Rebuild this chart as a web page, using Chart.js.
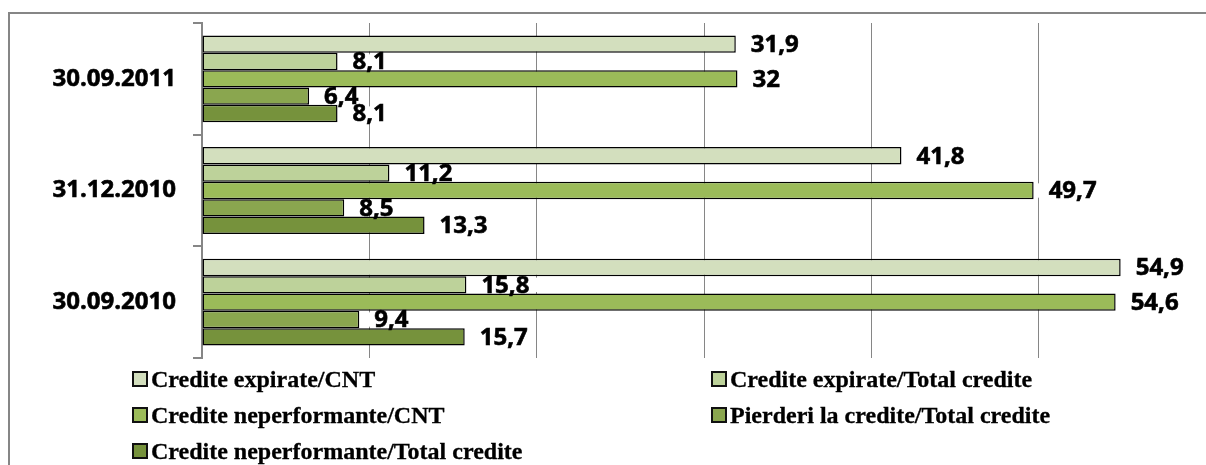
<!DOCTYPE html>
<html>
<head>
<meta charset="utf-8">
<script src="https://cdn.jsdelivr.net/npm/chart.js@4"></script>
<style>
    html, body { margin: 0; padding: 0; background: #fff; overflow: hidden; }
    #wrap { position: relative; width: 1206px; height: 465px; overflow: hidden; }
    #frame {
        position: absolute; left: 8px; top: 12px; width: 1400px; height: 600px;
        border-left: 2px solid #868686; border-top: 2px solid #868686;
    }
    #chart { position: absolute; left: 0; top: 0; }
    #legend {
        position: absolute; left: 132px; top: 361px;
        display: grid; grid-template-columns: 579px auto; grid-auto-rows: 36px;
        font: bold 24px "Liberation Serif", "Times New Roman", serif; color: #000;
        -webkit-text-stroke: 0.3px #000;
    }
    .item { display: flex; align-items: center; white-space: nowrap; }
    .box { width: 12px; height: 12px; border: 2px solid #111; margin-right: 3px; }
</style>
</head>
<body>
<div id="wrap">
    <div id="frame"></div>
    <canvas id="chart" width="1206" height="465"></canvas>
    <div id="legend"></div>
</div>
<script>
// Credite expirate / neperformante - bar chart

const categories = ['30.09.2011', '31.12.2010', '30.09.2010'];

const seriesNames = [
    'Credite expirate/CNT',
    'Credite expirate/Total credite',
    'Credite neperformante/CNT',
    'Pierderi la credite/Total credite',
    'Credite neperformante/Total credite'
];

const expirateCNT = [31.9, 41.8, 54.9];
const expirateTotal = [8.1, 11.2, 15.8];
const neperformanteCNT = [32, 49.7, 54.6];
const pierderiTotal = [6.4, 8.5, 9.4];
const neperformanteTotal = [8.1, 13.3, 15.7];

const seriesColors = ['#D3DFBE', '#BDD29A', '#9BBB59', '#8AA64F', '#76923C'];

const seriesValues = [expirateCNT, expirateTotal, neperformanteCNT, pierderiTotal, neperformanteTotal];

const labelFont = '"Open Sans"';

/**
 * Value labels to the right of each bar, white box behind the text
 */
const valueLabels = {
    id: 'valueLabels',
    afterDatasetsDraw(chart) {
        const ctx = chart.ctx;
        ctx.save();
        ctx.font = 'bold 24px ' + labelFont;
        ctx.textBaseline = 'middle';
        ctx.textAlign = 'left';

        const items = [];
        chart.data.datasets.forEach((ds, i) => {
            chart.getDatasetMeta(i).data.forEach((bar, j) => {
                const text = String(ds.data[j]).replace('.', ',');
                items.push({ bar: bar, text: text, w: ctx.measureText(text).width });
            });
        });

        // boxes first so a later box never hides an earlier text
        ctx.fillStyle = '#fff';
        items.forEach(it => {
            const h = it.bar.height;
            ctx.fillRect(it.bar.x + 1, it.bar.y - h / 2 + 1.5, it.w + 22, h - 3);
        });

        ctx.fillStyle = '#000';
        ctx.strokeStyle = '#000';
        ctx.lineWidth = 0.6;
        items.forEach(it => {
            ctx.fillText(it.text, it.bar.x + 15, it.bar.y + 1);
            ctx.strokeText(it.text, it.bar.x + 15, it.bar.y + 1);
        });
        ctx.restore();
    }
};

const ctx = document.getElementById('chart');

const chart = new Chart(ctx, {
    type: 'bar',
    data: {
        labels: categories,
        datasets: seriesNames.map((name, i) => ({
            label: name,
            data: seriesValues[i],
            backgroundColor: seriesColors[i],
            borderColor: '#000',
            borderWidth: 1.5,
            borderSkipped: false,
            barPercentage: 1,
            categoryPercentage: 0.777
        }))
    },
    options: {
        indexAxis: 'y',
        responsive: false,
        animation: false,
        layout: {
            padding: { top: 23, bottom: 107, left: 0, right: 0 }
        },
        plugins: {
            legend: { display: false },
            title: { display: false },
            tooltip: { enabled: false }
        },
        scales: {
            x: {
                min: 0,
                max: 60,
                ticks: { display: false, stepSize: 10 },
                border: { display: false },
                grid: {
                    color: '#868686',
                    lineWidth: 1,
                    drawTicks: false
                },
                afterFit: function(scale) {
                    scale.height = 0;
                    scale.paddingLeft = 0;
                    scale.paddingRight = 0;
                }
            },
            y: {
                ticks: {
                    color: '#000',
                    padding: 17,
                    textStrokeColor: '#000',
                    textStrokeWidth: 0.6,
                    font: {
                        family: labelFont,
                        size: 24,
                        weight: 'bold'
                    }
                },
                border: {
                    display: true,
                    color: '#868686',
                    width: 2
                },
                grid: {
                    offset: true,
                    drawOnChartArea: false,
                    drawTicks: true,
                    tickLength: 9,
                    color: '#868686',
                    lineWidth: 2
                },
                afterFit: function(scale) {
                    scale.width = 202;
                    scale.paddingTop = 0;
                    scale.paddingBottom = 0;
                }
            }
        }
    },
    plugins: [valueLabels]
});

// Legend in two columns, like the original
const legendEl = document.getElementById('legend');
seriesNames.forEach((name, i) => {
    const item = document.createElement('div');
    item.className = 'item';
    const box = document.createElement('span');
    box.className = 'box';
    box.style.background = seriesColors[i];
    const label = document.createElement('span');
    label.textContent = name;
    item.appendChild(box);
    item.appendChild(label);
    legendEl.appendChild(item);
});
</script>
</body>
</html>
